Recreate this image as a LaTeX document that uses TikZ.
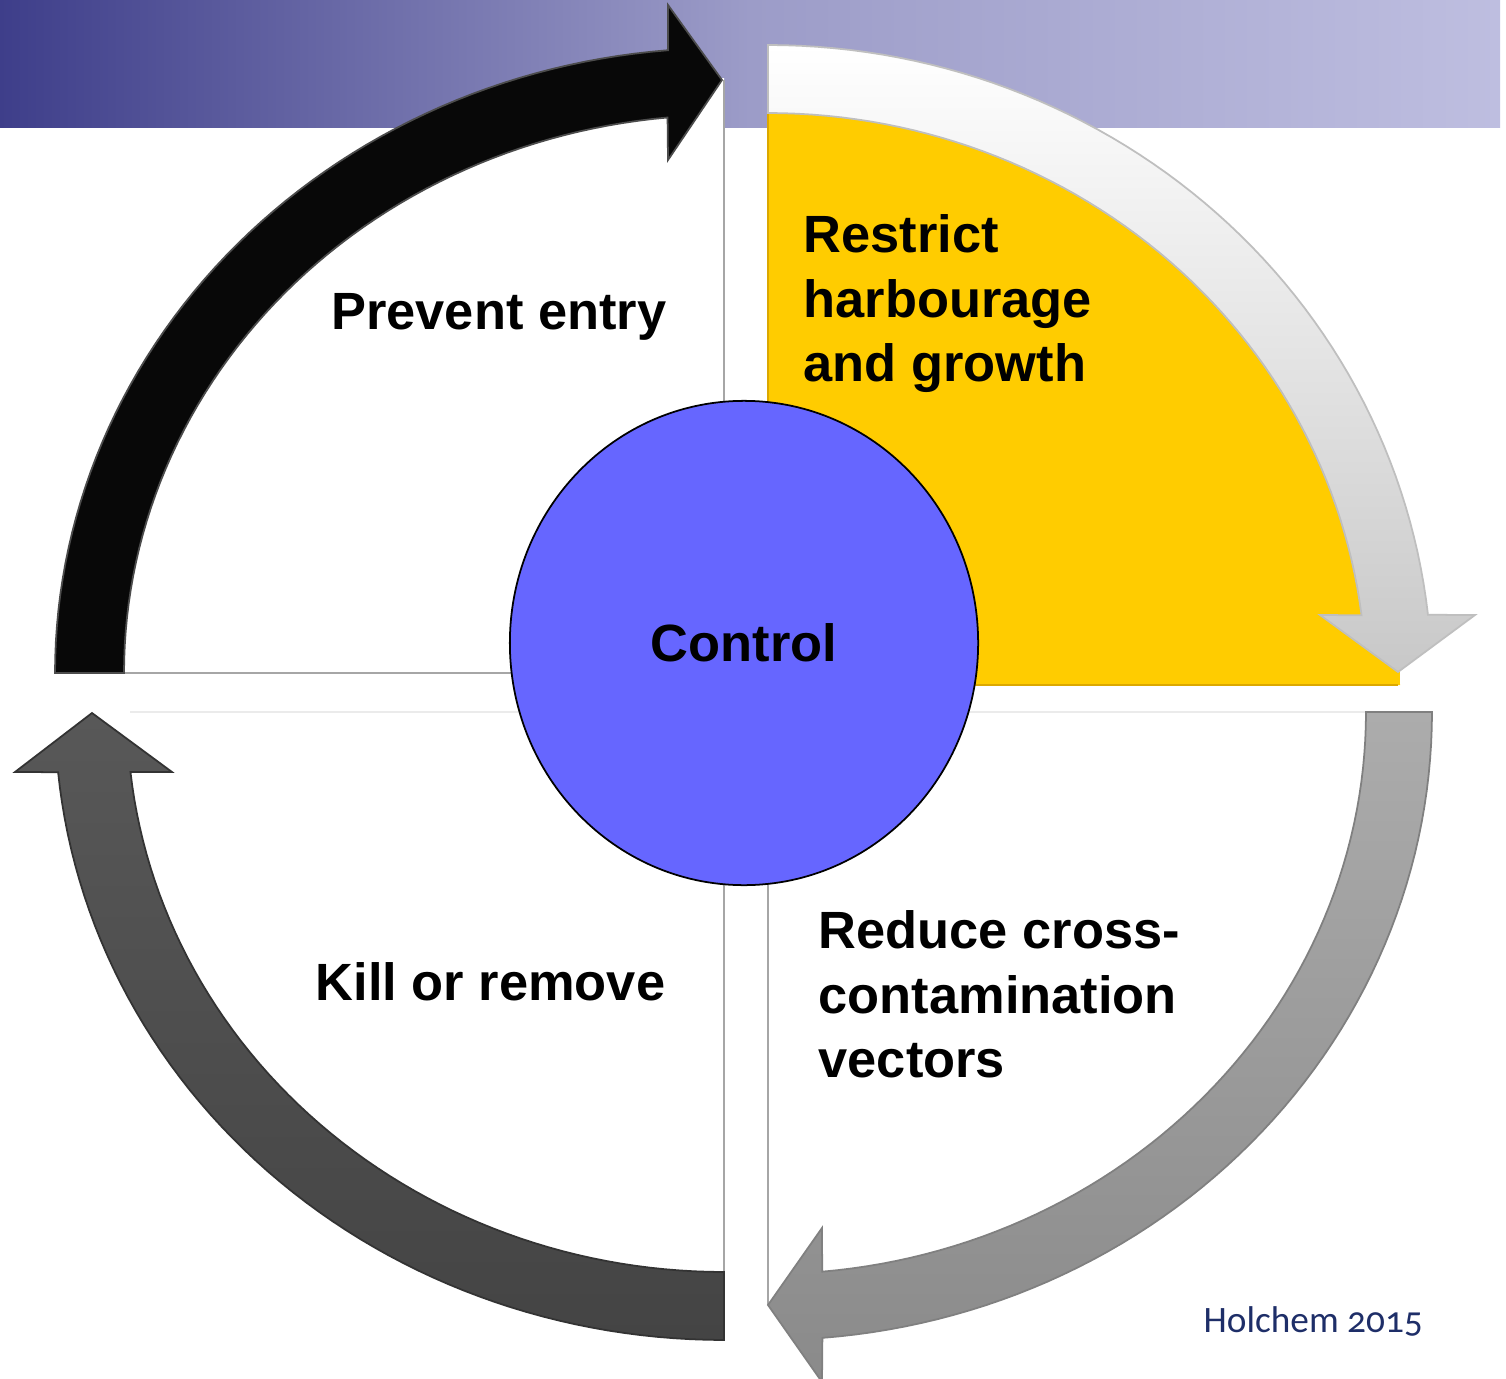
\documentclass[tikz,border=0pt]{standalone}
\usepackage{fontspec}
\setmainfont{Liberation Sans}
\newfontfamily\creditfont[Numbers=OldStyle]{Carlito}
\usetikzlibrary{shapes.geometric}

\definecolor{bannerL}{RGB}{62,62,138}
\definecolor{bannerM}{RGB}{156,156,200}
\definecolor{bannerR}{RGB}{190,190,224}
\definecolor{sunny}{RGB}{255,204,0}
\definecolor{sunnyedge}{RGB}{220,168,0}
\definecolor{hubblue}{RGB}{102,102,255}
\definecolor{creditnavy}{RGB}{30,46,104}
\definecolor{paleTop}{RGB}{255,255,255}
\definecolor{paleBot}{RGB}{200,200,200}
\definecolor{midTop}{RGB}{172,172,172}
\definecolor{midBot}{RGB}{138,138,138}
\definecolor{darkTop}{RGB}{88,88,88}
\definecolor{darkBot}{RGB}{68,68,68}

\begin{document}
\begin{tikzpicture}[x=0.01cm, y=-0.01cm,
  sectoredge/.style={draw=black!35, line width=0.6pt},
  faintedge/.style={draw=black!8, line width=0.6pt},
  quadlabel/.style={inner sep=0pt, font=\bfseries\fontsize{14.9}{18.35}\selectfont},
  blackarrow/.style={fill=black!97, draw=black!70, line width=0.5pt},
  palearrow/.style={top color=paleTop, bottom color=paleBot, draw=black!25, line width=0.5pt},
  midarrow/.style={top color=midTop, bottom color=midBot, draw=black!50, line width=0.5pt},
  darkarrow/.style={top color=darkTop, bottom color=darkBot, draw=black!80, line width=0.5pt}]

\useasboundingbox (0,0) rectangle (1506,1379);
\fill[white] (0,0) rectangle (1506,1379);

% title banner
\shade[left color=bannerL, right color=bannerR, middle color=bannerM] (0,0) rectangle (1500,128);

% quarter sectors
\fill[white] (724,673) -- plot[domain=180:270, samples=60] ({724+640*cos(\x)},{673+595*sin(\x)}) -- cycle;
\draw[sectoredge] (724,80) -- (724,673) -- (124,673);

\fill[sunny] (768,685) -- plot[domain=270:360, samples=60] ({768+632*cos(\x)},{685+600*sin(\x)}) -- cycle;
\draw[draw=sunnyedge, line width=0.8pt] (768,110) -- (768,685) -- (1398,685);

\draw[faintedge] (130,712) -- (724,712);
\draw[sectoredge] (724,712) -- (724,1275);
\draw[faintedge] (768,712) -- (1366,712);
\draw[sectoredge] (768,712) -- (768,1305);

% cycle arrows
\filldraw[blackarrow] plot[domain=180:265.2, samples=60] ({724+669*cos(\x)},{673+625*sin(\x)})
  -- (668,5) -- (722,80) -- (668,160)
  -- plot[domain=264.6:180, samples=60] ({724+600*cos(\x)},{673+558*sin(\x)}) -- cycle;

\shadedraw[palearrow] plot[domain=270:353.7, samples=60] ({768+664*cos(\x)},{685+640*sin(\x)})
  -- (1475,615) -- (1398,672) -- (1320,615)
  -- plot[domain=353:270, samples=60] ({768+598*cos(\x)},{685+572*sin(\x)}) -- cycle;

\shadedraw[midarrow] plot[domain=0:85.3, samples=60] ({768+664*cos(\x)},{712+628*sin(\x)})
  -- (822,1382) -- (768,1305) -- (822,1228)
  -- plot[domain=84.8:0, samples=60] ({768+598*cos(\x)},{712+562*sin(\x)}) -- cycle;

\shadedraw[darkarrow] plot[domain=90:174.5, samples=60] ({724+669*cos(\x)},{712+628*sin(\x)})
  -- (15,772) -- (92,713) -- (172,772)
  -- plot[domain=173.85:90, samples=60] ({724+597*cos(\x)},{712+560*sin(\x)}) -- cycle;

% hub
\node[ellipse, draw=black, line width=0.5pt, fill=hubblue, minimum width=4.68cm,
      minimum height=4.84cm, inner sep=0pt, quadlabel] (hub) at (744,643) {Control};

% quadrant labels
\node[quadlabel, anchor=base east] (entry) at (667,329) {Prevent entry};
\node[quadlabel, anchor=north west, align=left] (harbour) at (803,214) {Restrict\\harbourage\\and growth};
\node[quadlabel, anchor=north west, align=left] (vectors) at (818,910) {Reduce cross-\\contamination\\vectors};
\node[quadlabel, anchor=base east] (kill) at (666,1000) {Kill or remove};

% credit line
\node[inner sep=0pt, anchor=base west, text=creditnavy, font=\creditfont\fontsize{10.6}{12}\selectfont] (credit) at (1203,1332) {Holchem 2015};
\end{tikzpicture}
\end{document}
